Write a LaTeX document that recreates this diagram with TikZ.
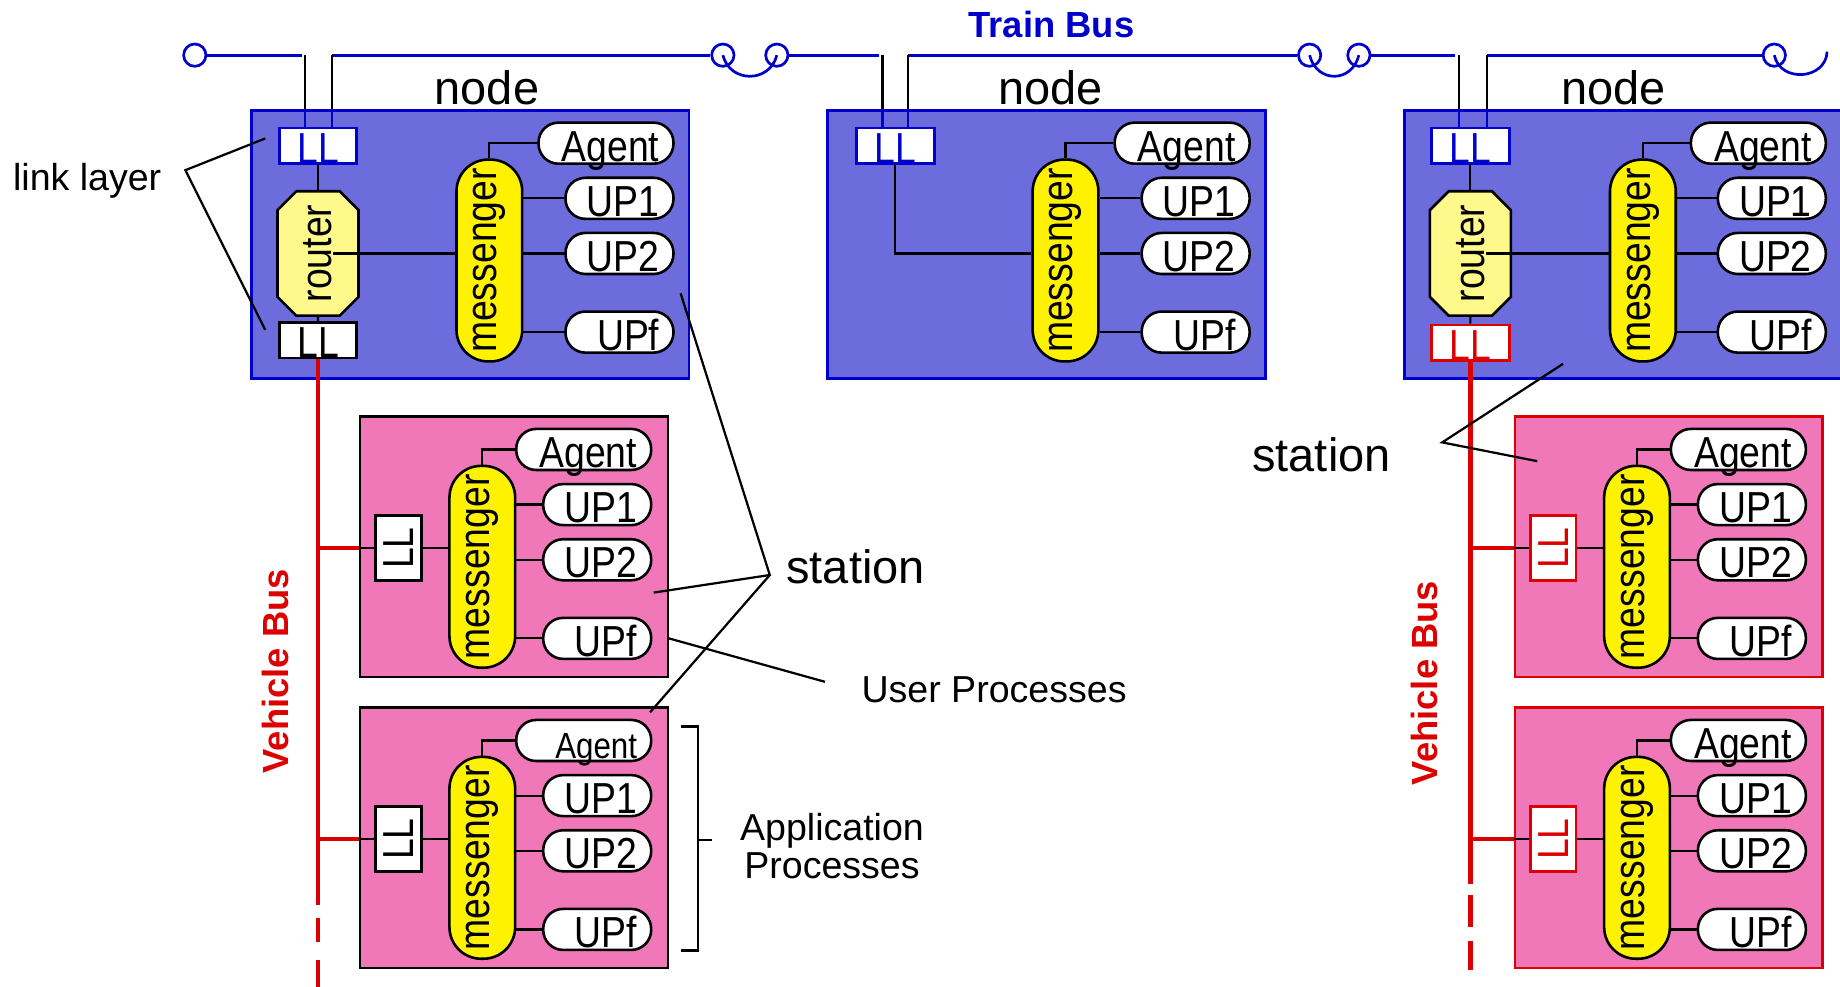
\documentclass[tikz,border=0pt]{standalone}
\usepackage{fontspec}
\setmainfont{Liberation Sans}
\newfontfamily\procfont{Liberation Sans}[FakeStretch=0.86]
\usetikzlibrary{shapes.misc}
\definecolor{tcnBlue}{HTML}{0000CC}
\definecolor{tcnRed}{HTML}{DD0000}
\definecolor{tcnNodeFill}{HTML}{6C6CDC}
\definecolor{tcnStationFill}{HTML}{F078B8}
\definecolor{tcnMsgYellow}{HTML}{FFF200}
\definecolor{tcnRouterYellow}{HTML}{FFF88A}
\tikzset{
  every picture/.style={font=\fontsize{32}{36}\selectfont, text=black},
  tcn node/.style={draw=tcnBlue, fill=tcnNodeFill, line width=2.4pt, anchor=north west,
    minimum width=373pt, minimum height=228pt, inner sep=0pt},
  tcn station/.style={draw=black, fill=tcnStationFill, line width=2pt, anchor=north west,
    minimum width=262pt, minimum height=222pt, inner sep=0pt},
  tcn proc/.style={font=\procfont\fontsize{37}{40}\selectfont},
  tcn ll/.style={tcn proc, draw=black, fill=white, line width=2.4pt, minimum width=66pt,
    inner xsep=0pt, inner ysep=0pt, text height=30pt, text depth=0pt},
  tcn ll v/.style={tcn proc, draw=black, fill=white, line width=2.2pt,
    minimum width=39pt, minimum height=55pt, inner sep=0pt},
  tcn router/.style={tcn proc, chamfered rectangle, chamfered rectangle sep=8pt,
    draw=black, fill=tcnRouterYellow, line width=2.2pt,
    minimum width=69pt, minimum height=106pt, inner sep=0pt},
  tcn messenger/.style={tcn proc, draw=black, fill=tcnMsgYellow, line width=2.2pt,
    rounded corners=27pt, minimum width=56pt, minimum height=172pt, inner sep=0pt},
  tcn pill/.style={tcn proc, draw=black, fill=white, line width=2.2pt, rounded corners=17pt,
    anchor=east, inner xsep=12pt, inner ysep=2pt, text height=31pt, text depth=0pt, align=right},
  tcn agent/.style={tcn pill, text width=91pt},
  tcn up/.style={tcn pill, text width=68pt},
  tcn train bus/.style={draw=tcnBlue, line width=2.3pt},
  tcn coupler/.style={circle, draw=tcnBlue, line width=2.3pt, minimum size=19pt, inner sep=0pt},
  tcn drop/.style={draw=black, line width=1.9pt},
  tcn drop in/.style={draw=tcnBlue, line width=1.9pt},
  tcn vehicle bus/.style={draw=tcnRed, line width=4pt},
  tcn wire/.style={draw=black, line width=1.9pt},
  tcn leader/.style={draw=black, line width=1.9pt},
  tcn label/.style={inner sep=0pt, font=\fontsize{32}{33}\selectfont},
  tcn big label/.style={inner sep=0pt, font=\fontsize{40}{44}\selectfont},
  tcn bus label/.style={inner sep=0pt, font=\bfseries\fontsize{31}{34}\selectfont}
}

% messenger with agent and user processes; #1 prefix, #2 messenger left,
% #3 top of the surrounding box, #4 right edge of the pills, #5 agent options
\newcommand{\procstack}[5]{%
  \node[tcn messenger] (#1msg) at ({#2+28},{#3+129}) {\rotatebox{90}{messenger}};
  \node[tcn agent, #5] (#1agent) at ({#4},{#3+29}) {Agent};
  \node[tcn up] (#1up1) at ({#4},{#3+76}) {UP1};
  \node[tcn up] (#1up2) at ({#4},{#3+123}) {UP2};
  \node[tcn up] (#1upf) at ({#4},{#3+190}) {UPf};
  \draw[tcn wire] (#1msg.north) |- (#1agent.west);
  \draw[tcn wire] (#1msg.east |- #1up1.west) -- (#1up1.west);
  \draw[tcn wire] (#1msg.east |- #1up2.west) -- (#1up2.west);
  \draw[tcn wire] (#1msg.east |- #1upf.west) -- (#1upf.west);
}

% station on a vehicle bus; #1 name, #2 left, #3 top, #4 frame colour, #5 agent options
\newcommand{\stationbox}[5]{%
  \node[tcn station, draw=#4] (#1) at (#2,#3) {};
  \node[tcn ll v, draw=#4, text=#4] (#1ll) at ({#2+33.5},{#3+113}) {\rotatebox{90}{LL}};
  \procstack{#1}{#2+77}{#3}{#2+250}{#5}
  \draw[tcn wire] (#1.west |- #1ll.west) -- (#1ll.west);
  \draw[tcn wire] (#1ll.east) -- (#1msg.west |- #1ll.east);
}

\begin{document}
\begin{tikzpicture}[x=1pt,y=-1pt]
  \useasboundingbox (0,0) rectangle (1568,841);
  \fill[white] (0,0) rectangle (1568,841);

  % train bus with couplers between the cars
  \node[tcn bus label, text=tcnBlue, anchor=base] (tbus) at (896,32) {Train Bus};
  \node[tcn coupler] (c0) at (166,47) {};
  \node[tcn coupler] (c1) at (616,47) {};
  \node[tcn coupler] (c2) at (662,47) {};
  \node[tcn coupler] (c3) at (1116,47) {};
  \node[tcn coupler] (c4) at (1158,47) {};
  \node[tcn coupler] (c5) at (1512,47) {};
  \coordinate (c6) at (1557,44);
  \coordinate (t1a) at (260,47);
  \coordinate (t1b) at (283,47);
  \coordinate (t2a) at (752,47);
  \coordinate (t2b) at (774,47);
  \coordinate (t3a) at (1243,47);
  \coordinate (t3b) at (1267,47);
  \draw[tcn train bus] (c0) -- ([xshift=-3pt]t1a);
  \draw[tcn train bus] (t1b) -- (c1);
  \draw[tcn train bus] (c1.center) .. controls +(6,24) and +(-6,24) .. (c2.center);
  \draw[tcn train bus] (c2) -- ([xshift=-3pt]t2a);
  \draw[tcn train bus] (t2b) -- (c3);
  \draw[tcn train bus] (c3.center) .. controls +(6,24) and +(-6,24) .. (c4.center);
  \draw[tcn train bus] (c4) -- ([xshift=-3pt]t3a);
  \draw[tcn train bus] (t3b) -- (c5);
  \draw[tcn train bus] (c5.center) .. controls +(5,24) and +(-1,24) .. (c6);

  % node 1
  \node[tcn node] (n1) at (213,93) {};
  \node[tcn big label, anchor=base] (n1lbl) at (415,89) {node};
  \node[tcn ll, draw=tcnBlue, text=tcnBlue] (n1lla) at (271,124) {LL};
  \node[tcn router] (n1rt) at (271,216) {\rotatebox{90}{router}};
  \node[tcn ll] (n1llb) at (271,290) {LL};
  \procstack{n1}{389}{93}{575}{}
  \draw[tcn wire] (n1lla) -- (n1rt);
  \draw[tcn wire] (n1rt) -- (n1llb);
  \draw[tcn wire] ([xshift=13pt]n1rt.center) -- (n1msg.west |- n1rt.center);
  \draw[tcn drop] (t1a) -- (t1a |- n1.north);
  \draw[tcn drop in] (t1a |- n1.north) -- (t1a |- n1lla.north);
  \draw[tcn drop] (t1b) -- (t1b |- n1.north);
  \draw[tcn drop in] (t1b |- n1.north) -- (t1b |- n1lla.north);

  % node 2
  \node[tcn node] (n2) at (704,93) {};
  \node[tcn big label, anchor=base] (n2lbl) at (895,89) {node};
  \node[tcn ll, draw=tcnBlue, text=tcnBlue] (n2lla) at (763,124) {LL};
  \procstack{n2}{880}{93}{1066}{}
  \draw[tcn wire] (n2lla.south) |- (n2msg.west |- n2up2.west);
  \draw[tcn drop] (t2a) -- (t2a |- n2.north);
  \draw[tcn drop in] (t2a |- n2.north) -- (t2a |- n2lla.north);
  \draw[tcn drop] (t2b) -- (t2b |- n2.north);
  \draw[tcn drop in] (t2b |- n2.north) -- (t2b |- n2lla.north);

  % node 3
  \node[tcn node, minimum width=380pt] (n3) at (1196,93) {};
  \node[tcn big label, anchor=base] (n3lbl) at (1375,89) {node};
  \node[tcn ll, draw=tcnBlue, text=tcnBlue] (n3lla) at (1253,124) {LL};
  \node[tcn router] (n3rt) at (1253,216) {\rotatebox{90}{router}};
  \node[tcn ll, draw=tcnRed, text=tcnRed] (n3llb) at (1253,292) {LL};
  \procstack{n3}{1372}{93}{1557}{}
  \draw[tcn wire] (n3lla) -- (n3rt);
  \draw[tcn wire] (n3rt) -- (n3llb);
  \draw[tcn wire] ([xshift=13pt]n3rt.center) -- (n3msg.west |- n3rt.center);
  \draw[tcn drop] (t3a) -- (t3a |- n3.north);
  \draw[tcn drop in] (t3a |- n3.north) -- (t3a |- n3lla.north);
  \draw[tcn drop] (t3b) -- (t3b |- n3.north);
  \draw[tcn drop in] (t3b |- n3.north) -- (t3b |- n3lla.north);

  % stations
  \stationbox{sL1}{306}{354}{black}{}
  \stationbox{sL2}{306}{602}{black}{font=\procfont\fontsize{31}{34}\selectfont}
  \stationbox{sR1}{1290}{354}{tcnRed}{}
  \stationbox{sR2}{1290}{602}{tcnRed}{}

  % vehicle buses
  \coordinate (vbLa) at (271,771);
  \coordinate (vbLb) at (271,782);
  \coordinate (vbLc) at (271,845);
  \draw[tcn vehicle bus] (n1llb.south) -- (vbLa);
  \draw[tcn vehicle bus, dash pattern=on 21pt off 15pt on 40pt] (vbLb) -- (vbLc);
  \draw[tcn vehicle bus] (sL1ll -| n1llb.south) -- (sL1.west |- sL1ll);
  \draw[tcn vehicle bus] (sL2ll -| n1llb.south) -- (sL2.west |- sL2ll);
  \coordinate (vbRa) at (1253,753);
  \coordinate (vbRb) at (1253,763);
  \coordinate (vbRc) at (1253,827);
  \draw[tcn vehicle bus] (n3llb.south) -- (vbRa);
  \draw[tcn vehicle bus, dash pattern=on 27pt off 12pt on 25pt] (vbRb) -- (vbRc);
  \draw[tcn vehicle bus] (sR1ll -| n3llb.south) -- (sR1.west |- sR1ll);
  \draw[tcn vehicle bus] (sR2ll -| n3llb.south) -- (sR2.west |- sR2ll);
  \node[tcn bus label, text=tcnRed, rotate=90] (vbusL) at (235,572) {Vehicle Bus};
  \node[tcn bus label, text=tcnRed, rotate=90] (vbusR) at (1214,582) {Vehicle Bus};

  % labels and leaders
  \node[tcn label, anchor=base west] (lklbl) at (11,162) {link layer};
  \coordinate (lkv) at (158,145);
  \coordinate (lka) at (226,118);
  \coordinate (lkb) at (226,281);
  \draw[tcn leader] (lka) -- (lkv) -- (lkb);

  \node[tcn big label, anchor=base west] (stlbl) at (670,497) {station};
  \coordinate (stv) at (656,490);
  \coordinate (st1) at (580,250);
  \coordinate (st2) at (557,505);
  \coordinate (st3) at (554,607);
  \draw[tcn leader] (st1) -- (stv) -- (st2);
  \draw[tcn leader] (stv) -- (st3);

  \node[tcn label, anchor=base west] (uplbl) at (734,599) {User Processes};
  \coordinate (upv) at (703,581);
  \draw[tcn leader] (sL1.east |- sL1upf.east) -- (upv);

  \node[tcn label, align=center] (aplbl) at (709,721) {Application\\Processes};
  \coordinate (brt) at (580,619);
  \coordinate (brb) at (580,810);
  \coordinate (brm) at (595,716);
  \draw[tcn leader] (brt) -| ([xshift=15pt]brb) -- (brb);
  \draw[tcn leader] (brm) -- ++(12,0);

  \node[tcn big label, anchor=base west] (stlblR) at (1067,402) {station};
  \coordinate (srv) at (1229,377);
  \coordinate (sr1) at (1332,310);
  \coordinate (sr2) at (1310,393);
  \draw[tcn leader] (sr1) -- (srv) -- (sr2);
\end{tikzpicture}
\end{document}
